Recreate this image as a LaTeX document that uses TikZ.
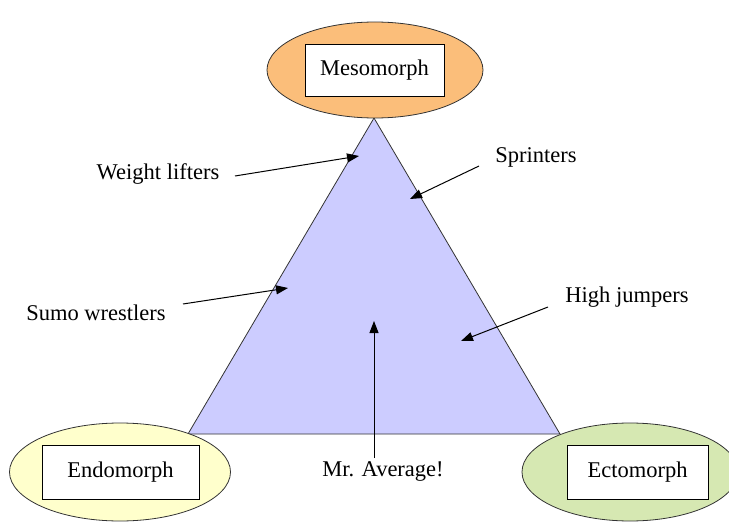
\documentclass[tikz,border=0pt]{standalone}
\usepackage{fontspec}
\setmainfont{Liberation Serif}
\usetikzlibrary{shapes.geometric,arrows.meta}
\definecolor{mesoc}{RGB}{251,190,122}
\definecolor{endoc}{RGB}{255,255,204}
\definecolor{ectoc}{RGB}{214,232,178}
\definecolor{tric}{RGB}{204,204,255}
\tikzset{
  lbl/.style={font=\fontsize{22.5}{27}\selectfont, inner sep=0pt},
  oval/.style={ellipse, draw=black!80, line width=0.8pt, inner sep=0pt},
  namebox/.style={rectangle, draw=black, line width=0.9pt, fill=white, font=\fontsize{22.5}{27}\selectfont, inner sep=0pt},
  arr/.style={line width=1pt, -{Triangle[length=12pt,width=9pt]}},
}
\begin{document}
\begin{tikzpicture}[x=1pt,y=-1pt]
\useasboundingbox (0,0) rectangle (729,524);
% triangle
\draw[fill=tric, line width=0.8pt, draw=black!80] (374,118) -- (188,434) -- (560,434) -- cycle;
% ellipses
\node[oval, fill=mesoc, minimum width=216pt, minimum height=96pt] (meso) at (375,70) {};
\node[oval, fill=endoc, minimum width=221pt, minimum height=98pt] (endo) at (120,472) {};
\node[oval, fill=ectoc, minimum width=216pt, minimum height=98pt] (ecto) at (630,472) {};
% boxes
\node[namebox, minimum width=139pt, minimum height=52pt] (mesob) at (374.5,70) {Mesomorph};
\node[namebox, minimum width=157pt, minimum height=54pt] (endob) at (120.5,472) {Endomorph};
\node[namebox, minimum width=141pt, minimum height=54pt] (ectob) at (637.5,472) {Ectomorph};
% labels
\node[lbl] (wl) at (158,174) {Weight lifters};
\node[lbl] (sp) at (536,157) {Sprinters};
\node[lbl] (sw) at (96,313) {Sumo wrestlers};
\node[lbl] (hj) at (627,297) {High jumpers};
\node[lbl] (ma) at (383,471) {Mr. Average!};
% arrow ends
\coordinate (wlTail) at (235,176);
\coordinate (wlTip) at (359,156);
\coordinate (spTail) at (479,166);
\coordinate (spTip) at (410,199);
\coordinate (swTail) at (183,304);
\coordinate (swTip) at (288,288);
\coordinate (hjTail) at (548,307);
\coordinate (hjTip) at (461,341);
\coordinate (maTail) at (374,458);
\coordinate (maTip) at (374,321);
\draw[arr] (wlTail) -- (wlTip);
\draw[arr] (spTail) -- (spTip);
\draw[arr] (swTail) -- (swTip);
\draw[arr] (hjTail) -- (hjTip);
\draw[arr] (maTail) -- (maTip);
\end{tikzpicture}
\end{document}
